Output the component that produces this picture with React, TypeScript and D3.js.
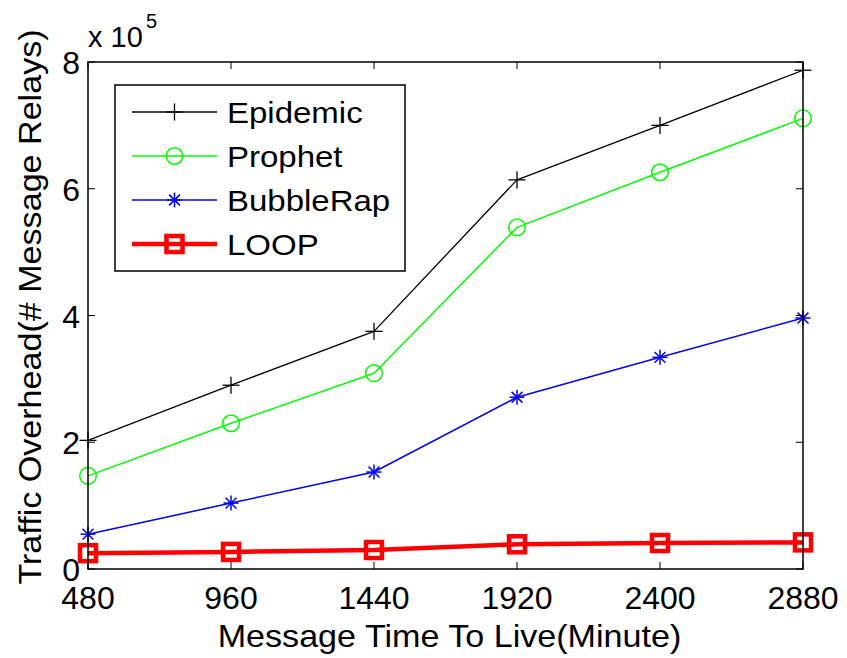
import React from "react";
import * as d3 from "d3";

const ttl = [480, 960, 1440, 1920, 2400, 2880];
const epidemic = [2.03, 2.9, 3.75, 6.14, 7.0, 7.87];
const prophet = [1.47, 2.3, 3.09, 5.39, 6.26, 7.11];
const bubbleRap = [0.55, 1.04, 1.53, 2.71, 3.34, 3.96];
const loop = [0.25, 0.27, 0.3, 0.39, 0.41, 0.42];
const yTicks = [0, 2, 4, 6, 8];
const seriesNames = ["Epidemic", "Prophet", "BubbleRap", "LOOP"];

const W = 847;
const H = 658;
const m = { left: 88, right: 803, top: 62, bottom: 569 };
const FONT = "'Liberation Sans', Arial, Helvetica, sans-serif";
// Labels are drawn slightly wide, as in the exported figure's font
const WIDE = 1.1;

type Series = { name: string; values: number[]; color: string; width: number; marker: string };

const series: Series[] = [
  { name: seriesNames[0], values: epidemic, color: "#000000", width: 1.3, marker: "plus" },
  { name: seriesNames[1], values: prophet, color: "#00ff00", width: 1.5, marker: "circle" },
  { name: seriesNames[2], values: bubbleRap, color: "#0000ff", width: 1.5, marker: "star" },
  { name: seriesNames[3], values: loop, color: "#ff0000", width: 4.5, marker: "square" },
];

function Marker({ kind, x, y, color }: { kind: string; x: number; y: number; color: string }) {
  if (kind === "plus") {
    const r = 8.5;
    return (
      <g stroke={color} strokeWidth={1.3}>
        <line x1={x - r} x2={x + r} y1={y} y2={y} />
        <line x1={x} x2={x} y1={y - r} y2={y + r} />
      </g>
    );
  }
  if (kind === "circle") {
    return <circle cx={x} cy={y} r={8.3} fill="none" stroke={color} strokeWidth={1.5} />;
  }
  if (kind === "star") {
    const r = 7.5;
    const d = r * 0.72;
    return (
      <g stroke={color} strokeWidth={1.5}>
        <line x1={x - r} x2={x + r} y1={y} y2={y} />
        <line x1={x} x2={x} y1={y - r} y2={y + r} />
        <line x1={x - d} x2={x + d} y1={y - d} y2={y + d} />
        <line x1={x - d} x2={x + d} y1={y + d} y2={y - d} />
      </g>
    );
  }
  const s = 8;
  return (
    <rect x={x - s} y={y - s} width={2 * s} height={2 * s} fill="none" stroke={color} strokeWidth={4.5} />
  );
}

export default function App() {
  const x = d3.scaleLinear().domain([480, 2880]).range([m.left, m.right]);
  const y = d3.scaleLinear().domain([0, 8]).range([m.bottom, m.top]);
  const line = d3
    .line<number>()
    .x((_, i) => x(ttl[i]))
    .y((v) => y(v));

  const tickLen = 7;
  const legend = { x: 115, y: 85, w: 290, h: 186 };
  const rowY = [112, 156, 200, 244];

  return (
    <svg width={W} height={H} style={{ position: "absolute", left: 0, top: 0, background: "#fff" }}>
      <rect width={W} height={H} fill="#fff" />
      {/* series */}
      {series.map((s) => (
        <g key={s.name}>
          <path d={line(s.values) || ""} fill="none" stroke={s.color} strokeWidth={s.width} strokeLinejoin="round" />
          {s.values.map((v, i) => (
            <Marker key={i} kind={s.marker} x={x(ttl[i])} y={y(v)} color={s.color} />
          ))}
        </g>
      ))}

      {/* axes box and ticks */}
      <rect
        x={m.left}
        y={m.top}
        width={m.right - m.left}
        height={m.bottom - m.top}
        fill="none"
        stroke="#000"
        strokeWidth={1.5}
      />
      {ttl.map((t) => (
        <g key={t} stroke="#000" strokeWidth={1}>
          <line x1={x(t)} x2={x(t)} y1={m.bottom} y2={m.bottom - tickLen} />
          <line x1={x(t)} x2={x(t)} y1={m.top} y2={m.top + tickLen} />
        </g>
      ))}
      {yTicks.map((t) => (
        <g key={t} stroke="#000" strokeWidth={1}>
          <line x1={m.left} x2={m.left + tickLen} y1={y(t)} y2={y(t)} />
          <line x1={m.right} x2={m.right - tickLen} y1={y(t)} y2={y(t)} />
        </g>
      ))}

      {/* tick labels */}
      <g fontFamily={FONT} fontSize={32} fill="#000">
        {ttl.map((t) => (
          <text key={t} x={x(t)} y={609} textAnchor="middle">
            {t}
          </text>
        ))}
        {yTicks.map((t) => (
          <text key={t} x={80} y={y(t) + 12} textAnchor="end">
            {t}
          </text>
        ))}
      </g>

      {/* exponent */}
      <text x={88} y={47} fontFamily={FONT} fontSize={29} fill="#000">
        x 10
      </text>
      <text x={146} y={28} fontFamily={FONT} fontSize={20} fill="#000">
        5
      </text>

      {/* axis titles */}
      <text
        transform={`translate(449.5, 647) scale(${WIDE}, 1)`}
        textAnchor="middle"
        fontFamily={FONT}
        fontSize={31}
        fill="#000"
      >
        Message Time To Live(Minute)
      </text>
      <text
        transform={`translate(41, 307) rotate(-90) scale(${WIDE}, 1)`}
        textAnchor="middle"
        fontFamily={FONT}
        fontSize={31}
        fill="#000"
      >
        Traffic Overhead(# Message Relays)
      </text>

      {/* legend */}
      <rect x={legend.x} y={legend.y} width={legend.w} height={legend.h} fill="#fff" stroke="#000" strokeWidth={1.5} />
      {series.map((s, i) => (
        <g key={s.name}>
          <line x1={132} x2={217} y1={rowY[i]} y2={rowY[i]} stroke={s.color} strokeWidth={s.width} />
          <Marker kind={s.marker} x={174.5} y={rowY[i]} color={s.color} />
          <text
            transform={`translate(227, ${rowY[i] + 11}) scale(${WIDE}, 1)`}
            fontFamily={FONT}
            fontSize={30}
            fill="#000"
          >
            {s.name}
          </text>
        </g>
      ))}
    </svg>
  );
}
